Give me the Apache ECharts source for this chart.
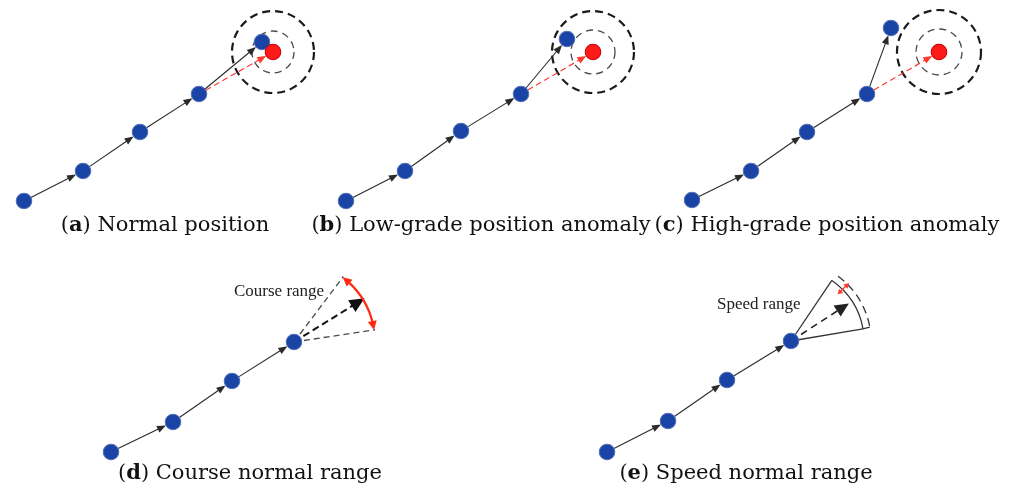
<!DOCTYPE html>
<html>
<head>
<meta charset="utf-8">
<script src="https://cdn.jsdelivr.net/npm/echarts@6/dist/echarts.min.js"></script>
<style>
  html, body { margin: 0; padding: 0; background: #fff; }
  #chart { width: 1019px; height: 494px; }
</style>
</head>
<body>
<div id="chart"></div>
<script>
// Track points of each panel, in panel-local units (y grows downward)
const trackA = [[24, 201], [83, 171], [140, 132], [199, 94], [262, 42]];
const trackB = [[26, 201], [85, 171], [141, 131], [201, 94], [247, 39]];
const trackC = [[32, 200], [91, 171], [147, 132], [207, 94], [231, 28]];
const trackD = [[31, 202], [93, 172], [152, 131], [214, 92]];
const trackE = [[27, 202], [88, 171], [147, 130], [211, 91]];

// Predicted next position and its tolerance rings [inner, outer]
const predA = [273, 52];
const predB = [273, 52];
const predC = [279, 52];
const ringsA = [21, 41];
const ringsB = [22, 41];
const ringsC = [23, 42];

// Course range: bounding directions (deg, counter-clockwise from east), heading, radius
const courseBounds = [8.6, 53];
const courseHeading = 31.8;
const courseRadius = 81;
const courseHeadingLen = 83;

// Speed range: bounding directions, heading, normal and upper radii
const speedBounds = [9.6, 56];
const speedOuterBounds = [10, 54];
const speedHeading = 33;
const speedRadii = [73, 80];
const speedHeadingLen = 69;
const speedMarkAngle = 45;
const speedMarkRadii = [66, 82];

// Captions
const captionLetters = ['a', 'b', 'c', 'd', 'e'];
const captionTexts = ['Normal position', 'Low-grade position anomaly', 'High-grade position anomaly',
  'Course normal range', 'Speed normal range'];
const rangeLabels = ['Course range', 'Speed range'];

// ---- layout of the five panels (pixel frames) ----
const panels = [
  { left: 0,   top: 0,   width: 320, height: 250 },
  { left: 320, top: 0,   width: 340, height: 250 },
  { left: 660, top: 0,   width: 359, height: 250 },
  { left: 80,  top: 250, width: 340, height: 244 },
  { left: 580, top: 250, width: 340, height: 244 }
];

const DOT_R = 7.8;
const BLUE = '#1944a6';
const RED = '#ff1a1a';
const D2R = Math.PI / 180;

function head(tip, dir, len, hw, color) {
  const bx = tip[0] - dir[0] * len, by = tip[1] - dir[1] * len;
  return {
    type: 'polygon',
    shape: { points: [tip, [bx - dir[1] * hw, by + dir[0] * hw], [bx + dir[1] * hw, by - dir[0] * hw]] },
    style: { fill: color, stroke: 'none' }
  };
}

// Arrow between two data points, trimmed to the dot edges
function segmentRenderer(o) {
  return function (params, api) {
    const a = api.coord([api.value(0), api.value(1)]);
    const b = api.coord([api.value(2), api.value(3)]);
    let dx = b[0] - a[0], dy = b[1] - a[1];
    const L = Math.hypot(dx, dy);
    dx /= L; dy /= L;
    const s = [a[0] + dx * o.trim, a[1] + dy * o.trim];
    const tip = [b[0] - dx * o.trim, b[1] - dy * o.trim];
    const base = [tip[0] - dx * o.headLen * 0.8, tip[1] - dy * o.headLen * 0.8];
    return {
      type: 'group',
      children: [
        { type: 'line', shape: { x1: s[0], y1: s[1], x2: base[0], y2: base[1] },
          style: { stroke: o.color, lineWidth: o.width, lineDash: o.dash || null, fill: 'none' } },
        head(tip, [dx, dy], o.headLen, o.headHalf, o.color)
      ]
    };
  };
}

// Ray from an origin: [ox, oy, angleDeg, r0, r1]
function rayRenderer(o) {
  return function (params, api) {
    const c = api.coord([api.value(0), api.value(1)]);
    const t = api.value(2) * D2R;
    const r0 = api.size([api.value(3), 0])[0];
    const r1 = api.size([api.value(4), 0])[0];
    const d = [Math.cos(t), -Math.sin(t)];
    const p0 = [c[0] + d[0] * r0, c[1] + d[1] * r0];
    const p1 = [c[0] + d[0] * r1, c[1] + d[1] * r1];
    let s = p0, e = p1;
    const ch = [];
    if (o.headEnd) {
      e = [p1[0] - d[0] * o.headLen * 0.8, p1[1] - d[1] * o.headLen * 0.8];
      ch.push(head(p1, d, o.headLen, o.headHalf, o.color));
    }
    if (o.headStart) {
      s = [p0[0] + d[0] * o.headLen * 0.8, p0[1] + d[1] * o.headLen * 0.8];
      ch.push(head(p0, [-d[0], -d[1]], o.headLen, o.headHalf, o.color));
    }
    ch.unshift({ type: 'line', shape: { x1: s[0], y1: s[1], x2: e[0], y2: e[1] },
      style: { stroke: o.color, lineWidth: o.width, lineDash: o.dash || null, fill: 'none' } });
    return { type: 'group', children: ch };
  };
}

// Arc around an origin: [ox, oy, r, a0, a1]
function arcRenderer(o) {
  return function (params, api) {
    const c = api.coord([api.value(0), api.value(1)]);
    const r = api.size([api.value(2), 0])[0];
    let a0 = api.value(3) * D2R, a1 = api.value(4) * D2R;
    const pt = a => [c[0] + r * Math.cos(a), c[1] - r * Math.sin(a)];
    const ch = [];
    if (o.heads) {
      const da = o.headLen / r;
      const unit = (p, q) => { const dx = q[0] - p[0], dy = q[1] - p[1], L = Math.hypot(dx, dy); return [dx / L, dy / L]; };
      ch.push(head(pt(a1), unit(pt(a1 - da), pt(a1)), o.headLen, o.headHalf, o.color));
      ch.push(head(pt(a0), unit(pt(a0 + da), pt(a0)), o.headLen, o.headHalf, o.color));
      a0 += da * 0.8; a1 -= da * 0.8;
    }
    if (o.endTick) {
      // short inward tick closing the lower end of the arc
      const p = pt(a0), q = [c[0] + (r - o.endTick) * Math.cos(a0), c[1] - (r - o.endTick) * Math.sin(a0)];
      ch.push({ type: 'line', shape: { x1: p[0], y1: p[1], x2: q[0] - 2, y2: q[1] + 1 },
        style: { stroke: o.color, lineWidth: o.width, fill: 'none' } });
    }
    ch.unshift({ type: 'arc', shape: { cx: c[0], cy: c[1], r: r, startAngle: -a1, endAngle: -a0, clockwise: true },
      style: { stroke: o.color, lineWidth: o.width, lineDash: o.dash || null, fill: 'none' } });
    return { type: 'group', children: ch };
  };
}

// Ring: [cx, cy, r]
function ringRenderer(o) {
  return function (params, api) {
    const c = api.coord([api.value(0), api.value(1)]);
    const r = api.size([api.value(2), 0])[0];
    return { type: 'circle', shape: { cx: c[0], cy: c[1], r: r },
      style: { stroke: o.color, lineWidth: o.width, lineDash: o.dash, fill: 'none' } };
  };
}

function pairs(track) {
  const out = [];
  for (let i = 0; i < track.length - 1; i++) out.push([track[i][0], track[i][1], track[i + 1][0], track[i + 1][1]]);
  return out;
}

const series = [];
function custom(idx, renderItem, data, z) {
  series.push({ type: 'custom', xAxisIndex: idx, yAxisIndex: idx, renderItem: renderItem, data: data,
    silent: true, z: z || 2 });
}
function dots(idx, data, color, border) {
  series.push({ type: 'scatter', xAxisIndex: idx, yAxisIndex: idx, data: data, symbolSize: DOT_R * 2,
    itemStyle: { color: color, borderColor: border, borderWidth: 1, opacity: 1 }, silent: true, z: 5 });
}

const trackArrow = segmentRenderer({ color: '#2a2a2a', width: 1.1, trim: DOT_R, headLen: 9, headHalf: 3.6 });
const predArrow = segmentRenderer({ color: '#ff3b30', width: 1.2, dash: [6, 3.5], trim: DOT_R, headLen: 9, headHalf: 3.6 });
const outerRing = ringRenderer({ color: '#1a1a1a', width: 2.2, dash: [8, 5] });
const innerRing = ringRenderer({ color: '#4a4a4a', width: 1.3, dash: [7, 5] });

// Panels a-c: position anomaly checks
[[trackA, predA, ringsA], [trackB, predB, ringsB], [trackC, predC, ringsC]].forEach(function (p, i) {
  const track = p[0], pred = p[1], rings = p[2];
  const last = track[track.length - 2];
  custom(i, outerRing, [[pred[0], pred[1], rings[1]]], 1);
  custom(i, innerRing, [[pred[0], pred[1], rings[0]]], 1);
  custom(i, trackArrow, pairs(track), 2);
  custom(i, predArrow, [[last[0], last[1], pred[0], pred[1]]], 3);
  dots(i, track, BLUE, '#5270b8');
  dots(i, [pred], RED, '#c20000');
});

// Panel d: course range
(function () {
  const o = trackD[trackD.length - 1];
  custom(3, trackArrow, pairs(trackD), 2);
  custom(3, rayRenderer({ color: '#4a4a4a', width: 1.3, dash: [6, 4] }),
    courseBounds.map(a => [o[0], o[1], a, 0, courseRadius + 1]), 2);
  custom(3, rayRenderer({ color: '#111', width: 2, dash: [7, 4], headEnd: true, headLen: 15, headHalf: 7 }),
    [[o[0], o[1], courseHeading, 0, courseHeadingLen]], 3);
  custom(3, arcRenderer({ color: '#ff2a10', width: 2.2, heads: true, headLen: 9, headHalf: 4.5 }),
    [[o[0], o[1], courseRadius, courseBounds[0], courseBounds[1]]], 3);
  dots(3, trackD, BLUE, '#5270b8');
})();

// Panel e: speed range
(function () {
  const o = trackE[trackE.length - 1];
  custom(4, trackArrow, pairs(trackE), 2);
  custom(4, rayRenderer({ color: '#333', width: 1.3 }),
    speedBounds.map(a => [o[0], o[1], a, 0, speedRadii[0]]), 2);
  custom(4, arcRenderer({ color: '#333', width: 1.3 }),
    [[o[0], o[1], speedRadii[0], speedBounds[0], speedBounds[1]]], 2);
  custom(4, arcRenderer({ color: '#333', width: 1.3, dash: [8, 5], endTick: 5 }),
    [[o[0], o[1], speedRadii[1], speedOuterBounds[0], speedOuterBounds[1]]], 2);
  custom(4, rayRenderer({ color: '#222', width: 1.6, dash: [7, 5], headEnd: true, headLen: 14, headHalf: 6.5 }),
    [[o[0], o[1], speedHeading, 0, speedHeadingLen]], 3);
  custom(4, rayRenderer({ color: '#ff3b30', width: 1.4, headEnd: true, headStart: true, headLen: 5, headHalf: 3 }),
    [[o[0], o[1], speedMarkAngle, speedMarkRadii[0], speedMarkRadii[1]]], 3);
  dots(4, trackE, BLUE, '#5270b8');
})();

// Text: captions and range labels
const captionPos = [[165, 226], [481, 226], [827, 226], [250, 474], [746, 474]];
const capFont = '"DejaVu Serif", serif';
const graphic = captionLetters.map(function (l, i) {
  return {
    type: 'text', x: captionPos[i][0], y: captionPos[i][1], silent: true,
    style: {
      text: '({b|' + l + '}) ' + captionTexts[i],
      fontFamily: capFont, fontSize: 21, fill: '#111',
      align: 'center', verticalAlign: 'middle',
      rich: { b: { fontFamily: capFont, fontSize: 21, fontWeight: 'bold', fill: '#111' } }
    }
  };
});
const labelPos = [[234, 292], [717, 305]];
rangeLabels.forEach(function (t, i) {
  graphic.push({
    type: 'text', x: labelPos[i][0], y: labelPos[i][1], silent: true,
    style: { text: t, fontFamily: '"Liberation Serif", serif', fontSize: 17, fill: '#222',
      align: 'left', verticalAlign: 'middle' }
  });
});

const option = {
  animation: false,
  backgroundColor: '#fff',
  grid: panels.map(p => ({ left: p.left, top: p.top, width: p.width, height: p.height })),
  xAxis: panels.map((p, i) => ({ gridIndex: i, type: 'value', min: 0, max: p.width, show: false })),
  yAxis: panels.map((p, i) => ({ gridIndex: i, type: 'value', min: 0, max: p.height, inverse: true, show: false })),
  series: series,
  graphic: graphic
};

const chart = echarts.init(document.getElementById('chart'), null, { renderer: 'canvas' });
chart.setOption(option);
</script>
</body>
</html>
